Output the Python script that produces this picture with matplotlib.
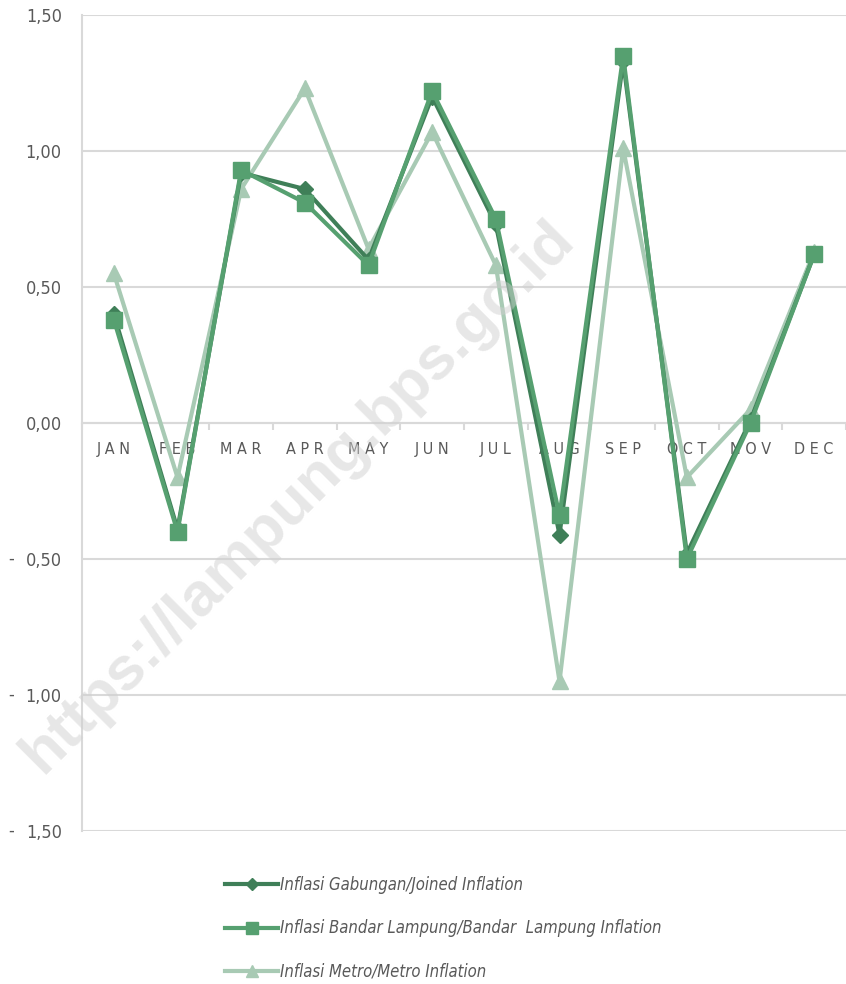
import matplotlib
matplotlib.use("Agg")
import matplotlib.pyplot as plt
from matplotlib.ticker import FixedLocator, FuncFormatter
from matplotlib.transforms import blended_transform_factory
import numpy as np

months = ["JAN", "FEB", "MAR", "APR", "MAY", "JUN", "JUL", "AUG", "SEP", "OCT", "NOV", "DEC"]
joined = [0.40, -0.39, 0.92, 0.86, 0.60, 1.20, 0.73, -0.41, 1.33, -0.48, 0.01, 0.62]
bandar = [0.38, -0.40, 0.93, 0.81, 0.58, 1.22, 0.75, -0.34, 1.35, -0.50, 0.00, 0.62]
metro = [0.55, -0.20, 0.86, 1.23, 0.64, 1.07, 0.58, -0.95, 1.01, -0.20, 0.05, 0.63]
yticks = [1.5, 1.0, 0.5, 0.0, -0.5, -1.0, -1.5]
labels = ["Inflasi Gabungan/Joined Inflation",
          "Inflasi Bandar Lampung/Bandar  Lampung Inflation",
          "Inflasi Metro/Metro Inflation"]

plt.rcParams['font.family'] = ["DejaVu Sans"]
plt.rcParams['font.stretch'] = "condensed"

W, H = 846, 984
fig = plt.figure(figsize=(W / 100, H / 100), dpi=100)
left, right, top, bottom = 82, 846, 15, 831
ax = fig.add_axes([left / W, 1 - bottom / H, (right - left) / W, (bottom - top) / H])

x = np.arange(len(months))
c_joined = "#3f7f58"
c_bandar = "#56a070"
c_metro = "#a8cab4"
ax.plot(x, metro, color=c_metro, lw=3, marker="^", ms=12, zorder=3, label=labels[2])
ax.plot(x, joined, color=c_joined, lw=3, marker="D", ms=8, zorder=4, label=labels[0])
ax.plot(x, bandar, color=c_bandar, lw=3, marker="s", ms=11, zorder=5, label=labels[1])

ax.set_xlim(-0.5, -0.5 + (right - left) / 64)
ax.set_ylim(-1.5, 1.5)

grid_c = "#d9d9d9"
for s in ["top", "right"]:
    ax.spines[s].set_visible(False)
ax.spines["left"].set_color(grid_c)
ax.spines["left"].set_linewidth(1.5)
ax.spines["bottom"].set_position(("data", 0))
ax.spines["bottom"].set_color(grid_c)
ax.spines["bottom"].set_linewidth(1.5)
ax.yaxis.set_major_locator(FixedLocator(yticks))
ax.yaxis.grid(True, color=grid_c, lw=1.5, zorder=0)
ax.set_axisbelow(True)
ax.tick_params(axis="y", length=0, pad=14.5, labelsize=13, labelcolor="#595959")
ax.yaxis.set_major_formatter(FuncFormatter(lambda v, p: f"{abs(v):.2f}".replace(".", ",")))
tr = blended_transform_factory(fig.transFigure, ax.transData)
for v in yticks:
    if v < 0:
        ax.text(8 / W, v, "-", transform=tr, ha="left", va="center",
                fontsize=13, color="#595959")

ax.set_xticks(x)
ax.set_xticklabels([" ".join(m) for m in months], fontsize=11.5, color="#595959")
ax.tick_params(axis="x", which="major", length=0, pad=13.5)
ax.set_xticks(np.arange(len(months) + 1) - 0.5, minor=True)
ax.tick_params(axis="x", which="minor", length=5, color=grid_c, width=1.5)

# watermark
fig.text(298 / W, 1 - 497 / H, "https://lampung.bps.go.id", rotation=45, fontsize=44.5,
         fontweight="bold", color="#cfcfcf", alpha=0.5, ha="center", va="center",
         family="Liberation Sans", fontstretch="normal", zorder=10)

handles, labs = ax.get_legend_handles_labels()
order = [1, 2, 0]
leg = fig.legend([handles[i] for i in order], [labs[i] for i in order],
                 loc="upper left", bbox_to_anchor=(210 / W, 1 - 861 / H), frameon=False,
                 prop={"family": "DejaVu Sans", "stretch": "condensed", "style": "italic", "size": 12},
                 handlelength=3.2, handletextpad=0.1, labelspacing=1.52, markerscale=0.75)
for t in leg.get_texts():
    t.set_color("#595959")

fig.savefig("out.png", dpi=100)
